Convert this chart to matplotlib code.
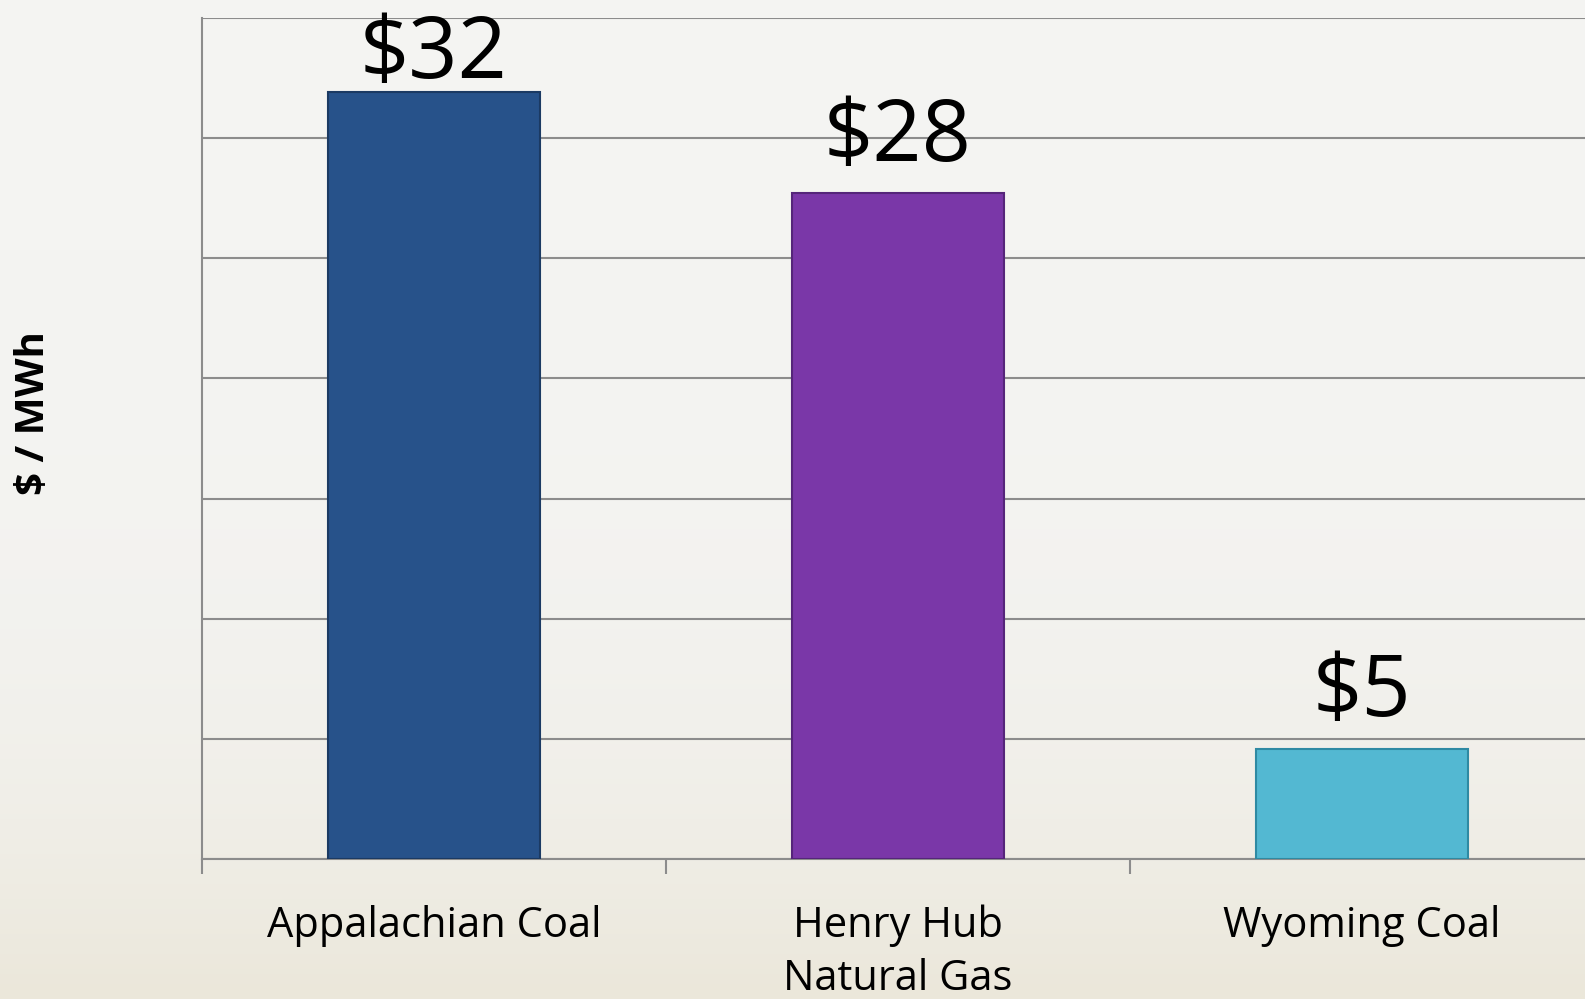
import numpy as np
import matplotlib.pyplot as plt
from matplotlib.colors import LinearSegmentedColormap

categories = ['Appalachian Coal', 'Henry Hub\nNatural Gas', 'Wyoming Coal']
values = [31.9, 27.7, 4.6]
value_labels = ['$32', '$28', '$5']
colors = ['#27528a', '#7a37a8', '#53b8d2']
edges = ['#1b3a63', '#55257a', '#2f8aa3']

plt.rcParams['font.family'] = ['Open Sans', 'DejaVu Sans']

fig = plt.figure(figsize=(15.85, 9.99), dpi=100)

# soft slide background
bg = fig.add_axes([0, 0, 1, 1], zorder=-10)
grad = np.linspace(0, 1, 200).reshape(-1, 1) ** 4
cmap = LinearSegmentedColormap.from_list('bg', ['#f4f4f2', '#ebe7da'])
bg.imshow(grad, aspect='auto', cmap=cmap, extent=[0, 1, 0, 1], origin='upper')
bg.axis('off')

ax = fig.add_axes([0.1274, 0.140, 0.878, 0.842])
ax.patch.set_alpha(0)
x = np.arange(len(categories))
bars = ax.bar(x, values, width=0.457, color=colors, edgecolor=edges, linewidth=1.5, zorder=3)

# value labels sit a little above the bar, but stay inside the plot at the top
for b, lab in zip(bars, value_labels):
    y = min(b.get_height() + 1.35, 32.5)
    ax.text(b.get_x() + b.get_width() / 2, y, lab.replace('$', r'\$'),
            ha='center', va='baseline', fontsize=62, color='black', zorder=4)

ax.set_xlim(-0.5, 2.5)
ax.set_ylim(0, 35)
ax.set_yticks(np.arange(0, 36, 5))
ax.set_yticklabels([])
ax.tick_params(axis='y', length=0)
ax.yaxis.grid(True, color='#8c8c8c', linewidth=1.5, zorder=0)
ax.set_axisbelow(True)

ax.set_xticks([-0.5, 0.5, 1.5], minor=False)
ax.set_xticklabels([])
ax.tick_params(axis='x', length=11, width=1.5, color='#8c8c8c')
ax.set_xticks(x, minor=True)
ax.set_xticklabels(categories, minor=True, fontsize=30, linespacing=1.33)
ax.tick_params(axis='x', which='minor', length=0, pad=33)

for s in ['top', 'right']:
    ax.spines[s].set_visible(False)
for s in ['left', 'bottom']:
    ax.spines[s].set_color('#8c8c8c')
    ax.spines[s].set_linewidth(1.5)

fig.text(0.021, 0.587, '$ / MWh'.replace('$', r'\$'), rotation=90, fontsize=29,
         fontweight='bold', ha='center', va='center')

fig.savefig('out.png', dpi=100)
